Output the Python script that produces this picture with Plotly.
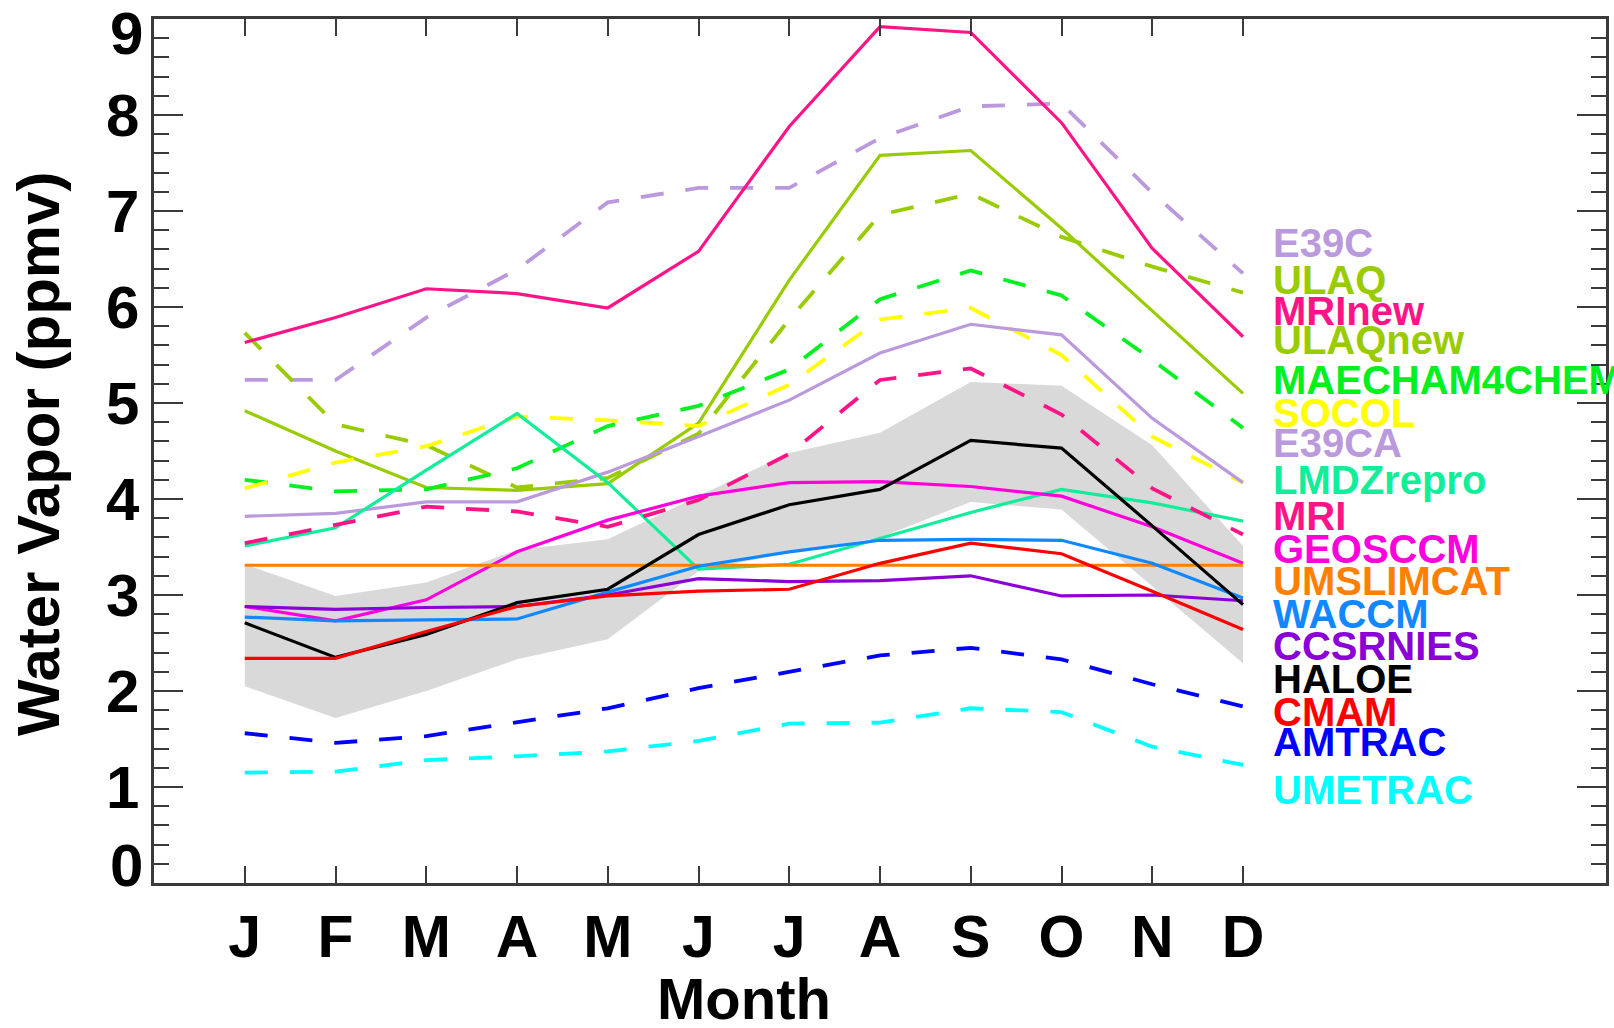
import plotly.graph_objects as go

# Monthly climatology of water vapour (ppmv)
months = ["J", "F", "M", "A", "M", "J", "J", "A", "S", "O", "N", "D"]
month_idx = list(range(12))

e39c = [5.24, 5.24, 5.89, 6.39, 7.09, 7.24, 7.24, 7.76, 8.09, 8.12, 7.19, 6.35]
ulaq = [5.73, 4.78, 4.56, 4.12, 4.22, 4.68, 5.87, 6.96, 7.18, 6.73, 6.42, 6.15]
mrinew = [5.63, 5.89, 6.19, 6.14, 5.99, 6.58, 7.88, 8.92, 8.86, 7.92, 6.61, 5.69]
ulaqnew = [4.92, 4.50, 4.12, 4.09, 4.16, 4.79, 6.28, 7.58, 7.63, 6.82, 5.96, 5.10]
maecham4chem = [4.20, 4.08, 4.10, 4.32, 4.76, 4.97, 5.35, 6.08, 6.38, 6.12, 5.45, 4.74]
socol = [4.11, 4.38, 4.55, 4.86, 4.82, 4.76, 5.19, 5.87, 5.99, 5.50, 4.65, 4.17]
e39ca = [3.82, 3.85, 3.97, 3.97, 4.28, 4.65, 5.03, 5.52, 5.82, 5.71, 4.84, 4.17]
lmdzrepro = [3.51, 3.70, 4.30, 4.89, 4.17, 3.27, 3.32, 3.59, 3.86, 4.10, 3.96, 3.77]
mri = [3.54, 3.73, 3.92, 3.87, 3.71, 3.99, 4.47, 5.24, 5.36, 4.88, 4.11, 3.63]
geosccm = [2.88, 2.73, 2.95, 3.45, 3.78, 4.03, 4.17, 4.18, 4.13, 4.03, 3.71, 3.33]
umslimcat = [3.31, 3.31, 3.31, 3.31, 3.31, 3.31, 3.31, 3.31, 3.31, 3.31, 3.31, 3.31]
waccm = [2.77, 2.73, 2.74, 2.75, 3.03, 3.30, 3.45, 3.57, 3.58, 3.57, 3.33, 2.97]
ccsrnies = [2.88, 2.85, 2.87, 2.88, 3.00, 3.17, 3.14, 3.15, 3.20, 2.99, 3.00, 2.94]
haloe = [2.71, 2.35, 2.59, 2.92, 3.06, 3.63, 3.94, 4.10, 4.61, 4.53, 3.72, 2.90]
cmam = [2.34, 2.34, 2.62, 2.88, 2.99, 3.04, 3.06, 3.33, 3.54, 3.43, 3.04, 2.64]
amtrac = [1.56, 1.46, 1.53, 1.67, 1.82, 2.03, 2.20, 2.37, 2.45, 2.33, 2.07, 1.84]
umetrac = [1.15, 1.16, 1.28, 1.32, 1.37, 1.48, 1.66, 1.67, 1.82, 1.78, 1.42, 1.23]

# HALOE variability envelope
haloe_low = [2.05, 1.72, 2.00, 2.33, 2.54, 3.25, 3.44, 3.60, 3.97, 3.89, 3.09, 2.29]
haloe_high = [3.32, 2.99, 3.13, 3.47, 3.58, 4.03, 4.48, 4.69, 5.22, 5.18, 4.56, 3.51]

y_ticks = [0, 1, 2, 3, 4, 5, 6, 7, 8, 9]

# name, values, colour, dashed, label height (ppmv)
models = [
    ("E39C", e39c, "#BB99DD", True, 6.667),
    ("ULAQ", ulaq, "#99CC00", True, 6.284),
    ("MRInew", mrinew, "#FF1487", False, 5.954),
    ("ULAQnew", ulaqnew, "#99CC00", False, 5.659),
    ("MAECHAM4CHEM", maecham4chem, "#00F020", True, 5.243),
    ("SOCOL", socol, "#FFFF00", True, 4.896),
    ("E39CA", e39ca, "#BB99DD", False, 4.583),
    ("LMDZrepro", lmdzrepro, "#11EE99", False, 4.193),
    ("MRI", mri, "#FF1487", True, 3.828),
    ("GEOSCCM", geosccm, "#FF00DD", False, 3.482),
    ("UMSLIMCAT", umslimcat, "#FF8000", False, 3.142),
    ("WACCM", waccm, "#1188FF", False, 2.805),
    ("CCSRNIES", ccsrnies, "#8B00D6", False, 2.465),
    ("HALOE", haloe, "#000000", False, 2.128),
    ("CMAM", cmam, "#FF0000", False, 1.779),
    ("AMTRAC", amtrac, "#0000FF", True, 1.467),
    ("UMETRAC", umetrac, "#00FFFF", True, 0.964),
]

FONT = "Liberation Sans"
AXIS_COLOR = "#3a3a3a"

fig = go.Figure()

fig.add_trace(go.Scatter(x=month_idx, y=haloe_low, mode="lines",
                         line=dict(width=0, color="#D9D9D9"),
                         showlegend=False, hoverinfo="skip"))
fig.add_trace(go.Scatter(x=month_idx, y=haloe_high, mode="lines",
                         line=dict(width=0, color="#D9D9D9"),
                         fill="tonexty", fillcolor="#D9D9D9",
                         showlegend=False, hoverinfo="skip"))

for name, vals, color, dashed, _ in models:
    fig.add_trace(go.Scatter(
        x=month_idx, y=vals, mode="lines", name=name, showlegend=False,
        line=dict(color=color, width=3.8 if dashed else 3.2,
                  dash="23px,22px" if dashed else "solid"),
    ))

annotations = []
for name, vals, color, dashed, label_y in models:
    annotations.append(dict(
        x=11.31, y=label_y, xref="x", yref="y", text=name, showarrow=False,
        xanchor="left", yanchor="middle",
        font=dict(family=FONT, size=40, color=color, weight="bold"),
    ))

# end labels of the value axis sit slightly inside the frame
for val, shift in ((0, 18), (9, -14)):
    annotations.append(dict(
        x=0, y=val, xref="paper", yref="y", text=str(val), showarrow=False,
        xanchor="right", yanchor="middle", xshift=-9, yshift=shift,
        font=dict(family=FONT, size=60, color="black", weight="bold"),
    ))

# axis titles
annotations.append(dict(
    x=5.5, y=0, xref="x", yref="paper", text="Month", showarrow=False,
    xanchor="center", yanchor="middle", yshift=-115,
    font=dict(family=FONT, size=58, color="black", weight="bold"),
))
annotations.append(dict(
    x=0, y=0.5, xref="paper", yref="paper", text="Water Vapor (ppmv)",
    showarrow=False, textangle=-90, xanchor="center", yanchor="middle",
    xshift=-116, yshift=-3,
    font=dict(family=FONT, size=60, color="black", weight="bold"),
))

fig.update_layout(
    width=1614, height=1028,
    margin=dict(l=154, r=8, t=19, b=145, autoexpand=False),
    paper_bgcolor="white", plot_bgcolor="white",
    showlegend=False,
    annotations=annotations,
    xaxis=dict(
        range=[-1, 15], tickvals=month_idx, ticktext=months,
        ticks="inside", ticklen=17, tickwidth=1.5, tickcolor=AXIS_COLOR,
        showline=True, linecolor=AXIS_COLOR, linewidth=2.5, mirror="ticks",
        showgrid=False, zeroline=False, automargin=False,
        tickfont=dict(family=FONT, size=59, color="black", weight="bold"),
        ticklabelstandoff=0,
    ),
    yaxis=dict(
        range=[0, 9], tickvals=y_ticks,
        ticktext=["" if v in (0, 9) else str(v) for v in y_ticks],
        ticks="inside", ticklen=29, tickwidth=2, tickcolor=AXIS_COLOR,
        minor=dict(dtick=0.2, ticks="inside", ticklen=15, tickwidth=2,
                   tickcolor=AXIS_COLOR, showgrid=False),
        showline=True, linecolor=AXIS_COLOR, linewidth=2.5, mirror="ticks",
        showgrid=False, zeroline=False, automargin=False,
        tickfont=dict(family=FONT, size=60, color="black", weight="bold"),
        ticklabelstandoff=0,
    ),
)

fig.write_html("out.html")
